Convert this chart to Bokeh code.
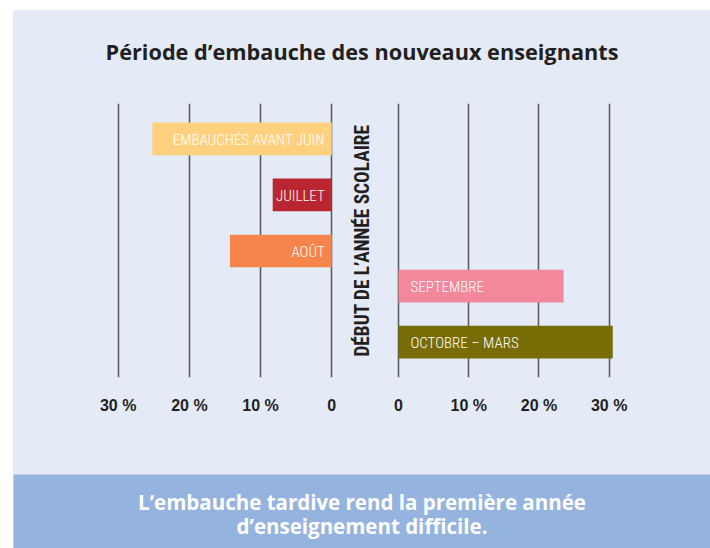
from bokeh.plotting import figure
from bokeh.models import Range1d, FactorRange, LinearAxis, FixedTicker, Grid, Label, ColumnDataSource
from bokeh.layouts import column, row
from bokeh.embed import file_html
from bokeh.resources import INLINE
from bokeh.core.properties import value

# ---------------- data ----------------
title_text = "Période d’embauche des nouveaux enseignants"
banner_lines = ["L’embauche tardive rend la première année", "d’enseignement difficile."]
axis_title = "DÉBUT DE L’ANNÉE SCOLAIRE"

before_group = "avant"
before_cats = ["EMBAUCHÉS AVANT JUIN", "JUILLET", "AOÛT"]
before_vals = [25.2, 8.3, 14.3]

after_group = "après"
after_cats = ["SEPTEMBRE", "OCTOBRE – MARS"]
after_vals = [23.5, 30.5]

tick_values = [0, 10, 20, 30]
tick_labels = ["0", "10 %", "20 %", "30 %"]

# ---------------- styles ----------------
before_colors = ["#ffd17f", "#b9262f", "#f5854a"]
after_colors = ["#f3879b", "#776c06"]
BG = "#e4ebf6"
BANNER = "#95b3df"
DARK = "#231f20"
GRID = "#5e5e5e"
BAR_FONT = "'Roboto Condensed Light', 'Roboto Condensed'"
VERT_FONT = "Roboto Condensed"

# shared categorical y range (bottom -> top)
factors = [(after_group, c) for c in reversed(after_cats)] + [(before_group, c) for c in reversed(before_cats)]
yr = FactorRange(factors=factors, group_padding=-0.375, range_padding=0.133,
                 range_padding_units="absolute")

overrides = {v: t for v, t in zip(tick_values, tick_labels)}


def plain(p, fill):
    p.background_fill_color = fill
    p.border_fill_color = fill
    p.outline_line_color = None
    for g in p.grid:
        g.visible = False


def add_x_axis(p):
    ax = LinearAxis(ticker=FixedTicker(ticks=tick_values), major_label_overrides=overrides,
                    axis_line_color=None, major_tick_line_color=None, minor_tick_line_color=None,
                    major_tick_out=0, minor_tick_out=0, major_label_standoff=19,
                    major_label_text_font="Liberation Sans", major_label_text_font_style="bold",
                    major_label_text_font_size="16px", major_label_text_color=DARK)
    p.add_layout(ax, "below")
    p.add_layout(Grid(dimension=0, ticker=ax.ticker, grid_line_color=GRID, grid_line_width=1.6))


# ---------------- left panel ----------------
left = figure(width=332, height=371, x_range=Range1d(44.70, -1.924), y_range=yr,
              x_axis_location=None, y_axis_location=None, toolbar_location=None,
              output_backend="svg", min_border_left=0, min_border_right=0,
              min_border_top=0, min_border_bottom=97)
plain(left, BG)
add_x_axis(left)
src_l = ColumnDataSource(dict(y=[(before_group, c) for c in before_cats], val=before_vals,
                              label=before_cats, color=before_colors))
left.hbar(y="y", left=0, right="val", height=0.584, fill_color="color", line_color=None, source=src_l)
left.text(x=0, y="y", text="label", source=src_l, text_align="right", text_baseline="middle",
          x_offset=-7, y_offset=1, text_color="white", text_font=value(BAR_FONT), text_font_size="15px")

# ---------------- right panel ----------------
right = figure(width=365, height=371, x_range=Range1d(-3.417, 44.42), y_range=yr,
               x_axis_location=None, y_axis_location=None, toolbar_location=None,
               output_backend="svg", min_border_left=29, min_border_right=0,
               min_border_top=0, min_border_bottom=97)
plain(right, BG)
add_x_axis(right)
yax = LinearAxis(ticker=FixedTicker(ticks=[]), axis_line_color=None, major_tick_out=0, minor_tick_out=0,
                 major_label_standoff=0, major_label_text_font_size="0px",
                 axis_label=axis_title, axis_label_standoff=1, axis_label_text_font=VERT_FONT,
                 axis_label_text_font_style="bold", axis_label_text_font_size="19.3px",
                 axis_label_text_color=DARK)
right.add_layout(yax, "left")
src_r = ColumnDataSource(dict(y=[(after_group, c) for c in after_cats], val=after_vals,
                              label=after_cats, color=after_colors))
right.hbar(y="y", left=0, right="val", height=0.584, fill_color="color", line_color=None, source=src_r)
right.text(x=0, y="y", text="label", source=src_r, text_align="left", text_baseline="middle",
           x_offset=12, y_offset=1, text_color="white", text_font=value(BAR_FONT), text_font_size="15px")

# ---------------- header & banner ----------------
header = figure(width=697, height=93, x_range=Range1d(0, 1), y_range=Range1d(0, 1),
                x_axis_location=None, y_axis_location=None, toolbar_location=None,
                output_backend="svg", min_border=0)
plain(header, BG)
header.add_layout(Label(x=0.5, y=0.56, text=title_text, text_align="center", text_baseline="alphabetic",
                        text_font="Open Sans", text_font_style="bold", text_font_size="21.7px",
                        text_color=DARK))

banner = figure(width=697, height=74, x_range=Range1d(0, 1), y_range=Range1d(0, 1),
                x_axis_location=None, y_axis_location=None, toolbar_location=None,
                output_backend="svg", min_border=0)
plain(banner, BANNER)
for line, yy in zip(banner_lines, [0.635, 0.31]):
    banner.add_layout(Label(x=0.5, y=yy, text=line, text_align="center", text_baseline="alphabetic",
                            text_font="Open Sans", text_font_style="bold", text_font_size="20.5px",
                            text_color="white"))

layout = column(header, row(left, right, styles={"background-color": BG}), banner,
                margin=(10, 0, 0, 13), styles={"background-color": BG})

open("out.html", "w").write(file_html(layout, INLINE))
